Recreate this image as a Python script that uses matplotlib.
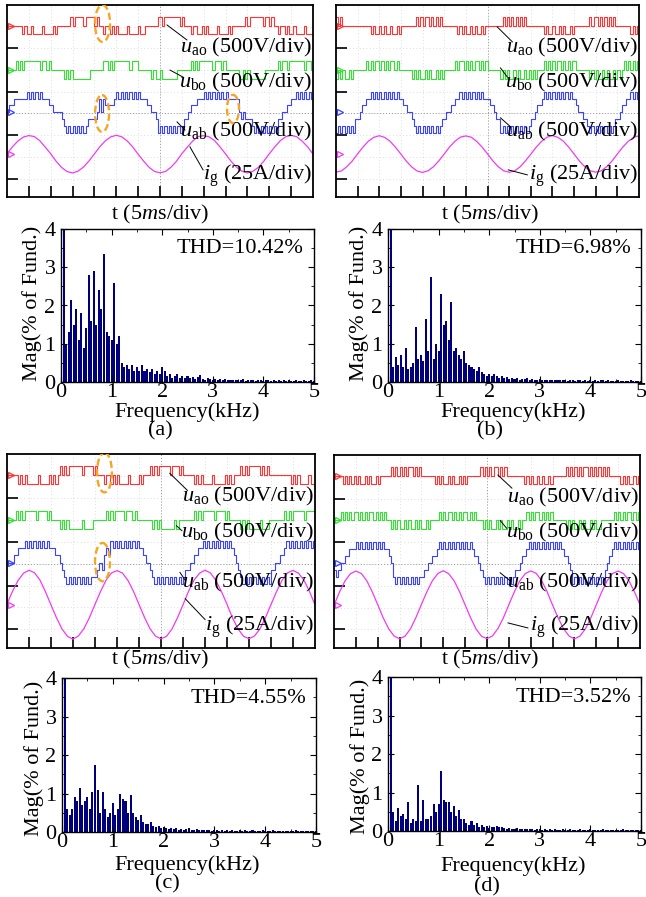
import matplotlib.pyplot as plt
import numpy as np
from matplotlib.patches import Ellipse
from matplotlib.ticker import MultipleLocator

plt.rcParams['font.family'] = ['Liberation Serif', 'DejaVu Serif']
plt.rcParams['mathtext.fontset'] = 'custom'
plt.rcParams['mathtext.rm'] = 'Liberation Serif'
plt.rcParams['mathtext.it'] = 'Liberation Serif:italic'
plt.rcParams['mathtext.bf'] = 'Liberation Serif:bold'

# ---------------- measured data ----------------
# switching states read every 0.5 ms (0-70 ms)
# phase legs: 0 = -1 level, 1 = zero, 2 = +1 level
# line voltage: 0..6, 3 = zero
SAMPLE_MS = 0.5
PHASE_STEP_V = 200.0
LINE_STEP_V = 160.0

u_ao_a = ("1111111" "01001000010000101" "11111" "2122221222212" "11011"
          "01010000100001001" "11111" "2212222222121" "11011"
          "00101000010000101" "11111" "2122222212212" "11011"
          "01001000010000101")
u_bo_a = ("1111" "2121222222212212" "111111" "010100000000" "111111"
          "2212122222221222" "111111" "010010000000" "111111"
          "2121222222122212" "111111" "001010000000" "111111"
          "2122122222221221")
u_ab_a = ("3" "44" "55555" "565656565" "55" "44" "3333" "2" "101010101012" "222"
          "35354" "444" "5656565656565" "55" "44" "33" "2" "010101010101" "22" "3"
          "444" "555" "656565656565" "555" "53232" "22" "101010101010" "223"
          "3445" "565656565656")

u_ao_b = ("2121" "111111111111" "01001010010010" "1111111" "212122121212" "1111111"
          "01010010100101" "1111111" "212121212121" "1111111" "01001001010010"
          "1111111" "212212121212" "1111111" "01010010100101")
u_bo_b = ("01010010" "111111" "2121221212122121" "11111" "0101001010010101" "1111"
          "2122121212212121" "11111" "01010010100101010" "111" "2121212212121221"
          "11111" "010100101001010" "1" "21212121212")
u_ab_b = ("010101010" "2234455" "6565656565656" "5544332" "1010101010101" "2233445"
          "5656565656565" "5544322" "0101010101010" "1223445" "6565656565656"
          "5543322" "1010101010101" "2234455" "6565656565")

u_ao_c = ("11111" "010100000100001010" "1" "212122222212222121" "11011"
          "0101000010000101" "11" "212122222122212" "11111"
          "0101000010000010101" "11" "2121222221212" "1111111111"
          "010100001000010")
u_bo_c = ("1111" "2121222221222212" "1111" "010100000010000" "111111"
          "21212222122212" "1111111" "010100000010" "1111111"
          "21212222212222121" "1111" "0101000001000" "1111111"
          "212122222122221212")
u_ab_c = ("333" "44" "55" "5656565656565" "55" "44" "3" "2" "1010101010101" "11"
          "232454" "6565656565656" "554332" "10101010101010" "12233445"
          "56565656565656" "5432" "10101010101010" "223344" "565656565656565656")

u_ao_d = ("11110101" "01010010100101" "1111" "21212121221212" "111111"
          "0101001010010101" "11111" "2121212212121" "1111111"
          "01010010100101" "11111" "21212121221212121212" "11111"
          "0101001010010")
u_bo_d = ("111" "212121221212122121212" "11" "0101001010010100101" "111"
          "212122121212212121" "11" "010100101001010010" "11"
          "2121221212121" "11111" "01010010100101001" "11111"
          "2121212212121212")
u_ab_d = ("21" "2334455" "565656565656565" "543" "1010101010101" "12233445"
          "656565656565656" "54432" "101010101010101" "22344"
          "5656565656565656" "54432" "010101010101010" "2345" "6565656565656565")

# grid current (A), read every 1.25 ms
I_STEP_MS = 1.25
i_g_a = [0.5, 8.4, 15.0, 19.6, 21.3, 20.1, 15.4, 8.0, 0.3, -8.4, -15.5, -20.2, -21.8, -19.7, -15.0, -8.0,
         0.2, 8.5, 15.3, 19.8, 21.6, 19.9, 15.1, 8.3, -0.2, -8.1, -15.3, -20.0, -21.6, -20.1, -15.2, -8.4,
         0.4, 8.0, 15.1, 20.2, 21.2, 19.8, 15.4, 8.1, 0.1, -8.3, -15.1, -19.8, -21.7, -19.9, -15.3, -8.2,
         0.3, 8.2, 15.3, 19.9, 21.5, 20.0, 15.0, 8.4, 0.0]
i_g_b = [-20.8, -19.5, -14.6, -8.1, 0.2, 8.1, 14.9, 19.3, 21.1, 19.2, 14.7, 7.8, -0.1, -8.2, -14.9, -19.6,
         -21.2, -19.3, -14.7, -7.9, 0.1, 8.2, 14.8, 19.5, 20.9, 19.4, 14.6, 8.0, 0.2, -7.9, -14.7, -19.3,
         -21.0, -19.5, -14.9, -8.0, -0.2, 7.9, 14.7, 19.4, 21.2, 19.3, 14.9, 8.1, 0.0, -8.1, -14.8, -19.4,
         -20.9, -19.4, -14.8, -8.2, 0.1, 8.0, 14.6, 19.3, 21.0]
i_g_c = [0.6, 15.2, 27.4, 35.8, 39.2, 36.3, 27.9, 14.6, -0.4, -15.1, -27.8, -36.2, -39.4, -35.7, -27.3, -14.7,
         0.3, 14.8, 27.7, 36.1, 38.8, 35.9, 27.5, 15.1, 0.2, -14.6, -27.5, -35.9, -39.1, -36.2, -27.8, -15.0,
         -0.2, 15.0, 27.9, 35.7, 39.3, 36.0, 27.4, 14.8, 0.4, -15.2, -27.6, -36.1, -38.9, -35.8, -27.6, -14.8,
         0.1, 14.7, 27.6, 36.2, 39.0, 35.8, 27.7, 15.0, -0.3]
i_g_d = [-0.5, 14.6, 27.2, 35.6, 38.7, 35.9, 27.6, 14.9, 0.2, -14.8, -27.4, -35.8, -39.0, -36.0, -27.5, -14.5,
         0.4, 15.0, 27.5, 35.9, 39.1, 35.6, 27.3, 14.7, -0.1, -14.9, -27.7, -36.1, -38.8, -35.7, -27.2, -14.9,
         0.2, 14.8, 27.4, 35.8, 38.9, 36.1, 27.7, 15.1, -0.3, -14.7, -27.3, -35.7, -39.2, -35.9, -27.6, -15.0,
         0.0, 14.9, 27.8, 35.9, 38.8, 35.7, 27.4, 14.6, 0.2]

# harmonic spectrum, % of fundamental, h = 0..100 (50 Hz steps)
HARM_KHZ = 0.05
mag_a = [0.6, 100, 1.0, 1.3, 2.15, 1.5, 1.9, 1.1, 1.8, 0.9,
         1.4, 2.8, 1.6, 2.9, 1.5, 2.4, 1.9, 3.35, 1.3, 1.2,
         1.1, 2.6, 1.0, 1.2, 0.5, 0.4, 0.45, 0.35, 0.45, 0.3,
         0.4, 0.3, 0.45, 0.3, 0.35, 0.25, 0.35, 0.2, 0.3, 0.2,
         0.4, 0.3, 0.15, 0.2, 0.1, 0.15, 0.2, 0.1, 0.15, 0.1,
         0.15, 0.1, 0.12, 0.08, 0.12, 0.18, 0.08, 0.06, 0.1, 0.08,
         0.06, 0.08, 0.05, 0.07, 0.05, 0.09, 0.04, 0.06, 0.05, 0.04,
         0.06, 0.04, 0.07, 0.03, 0.05, 0.04, 0.06, 0.03, 0.04, 0.05,
         0.03, 0.06, 0.04, 0.03, 0.05, 0.03, 0.04, 0.03, 0.05, 0.02,
         0.04, 0.03, 0.03, 0.05, 0.02, 0.03, 0.04, 0.02, 0.03, 0.05, 0.02]
mag_b = [0.6, 100, 0.4, 0.65, 0.45, 0.7, 0.4, 0.9, 0.35, 0.4,
         0.5, 1.45, 0.6, 0.7, 0.55, 1.65, 0.8, 2.75, 0.6, 1.0,
         0.8, 2.3, 1.5, 1.6, 1.1, 2.1, 0.8, 0.9, 0.7, 0.6,
         0.8, 0.5, 0.45, 0.4, 0.35, 0.3, 0.4, 0.25, 0.2, 0.15,
         0.2, 0.15, 0.2, 0.15, 0.1, 0.15, 0.1, 0.12, 0.08, 0.1,
         0.08, 0.1, 0.06, 0.08, 0.07, 0.1, 0.05, 0.08, 0.06, 0.05,
         0.07, 0.05, 0.06, 0.04, 0.06, 0.05, 0.04, 0.06, 0.04, 0.05,
         0.04, 0.03, 0.05, 0.04, 0.03, 0.05, 0.04, 0.03, 0.04, 0.03,
         0.05, 0.03, 0.04, 0.03, 0.05, 0.04, 0.03, 0.04, 0.03, 0.02,
         0.03, 0.04, 0.02, 0.03, 0.03, 0.02, 0.04, 0.03, 0.02, 0.03, 0.02]
mag_c = [0.5, 100, 0.6, 0.45, 0.6, 0.9, 0.8, 1.15, 0.7, 0.8,
         0.9, 0.6, 1.05, 1.75, 1.1, 0.5, 1.05, 0.6, 0.4, 0.5,
         0.75, 0.45, 0.6, 1.0, 0.85, 0.8, 0.5, 0.95, 0.5, 0.4,
         0.3, 0.45, 0.25, 0.2, 0.2, 0.25, 0.15, 0.12, 0.15, 0.1,
         0.12, 0.1, 0.08, 0.1, 0.08, 0.1, 0.06, 0.08, 0.05, 0.07,
         0.1, 0.05, 0.06, 0.08, 0.04, 0.06, 0.05, 0.04, 0.05, 0.03,
         0.04, 0.05, 0.03, 0.04, 0.03, 0.05, 0.03, 0.04, 0.02, 0.03,
         0.04, 0.03, 0.05, 0.02, 0.03, 0.04, 0.02, 0.03, 0.02, 0.04,
         0.02, 0.03, 0.02, 0.04, 0.02, 0.03, 0.02, 0.02, 0.03, 0.02,
         0.03, 0.02, 0.04, 0.02, 0.02, 0.03, 0.02, 0.02, 0.03, 0.02, 0.02]
mag_d = [0.65, 100, 0.5, 0.25, 0.6, 0.4, 0.45, 0.3, 0.75, 0.2,
         0.3, 0.25, 1.2, 0.25, 0.8, 0.3, 0.3, 0.4, 0.7, 0.5,
         0.7, 1.55, 0.8, 0.75, 0.75, 0.5, 0.65, 0.4, 0.55, 0.3,
         0.3, 0.2, 0.15, 0.25, 0.15, 0.2, 0.1, 0.15, 0.1, 0.12,
         0.08, 0.1, 0.1, 0.12, 0.1, 0.1, 0.08, 0.06, 0.08, 0.05,
         0.06, 0.07, 0.05, 0.04, 0.06, 0.05, 0.04, 0.05, 0.03, 0.04,
         0.05, 0.03, 0.04, 0.03, 0.05, 0.03, 0.04, 0.02, 0.03, 0.04,
         0.03, 0.02, 0.04, 0.03, 0.02, 0.03, 0.04, 0.02, 0.03, 0.02,
         0.04, 0.02, 0.03, 0.02, 0.03, 0.04, 0.02, 0.03, 0.02, 0.03,
         0.02, 0.03, 0.02, 0.04, 0.02, 0.03, 0.02, 0.02, 0.03, 0.02, 0.02]

thd_text = ['THD=10.42%', 'THD=6.98%', 'THD=4.55%', 'THD=3.52%']
case_labels = ['(a)', '(b)', '(c)', '(d)']

panels = [
    dict(u_ao=u_ao_a, u_bo=u_bo_a, u_ab=u_ab_a, i_g=i_g_a, mag=mag_a),
    dict(u_ao=u_ao_b, u_bo=u_bo_b, u_ab=u_ab_b, i_g=i_g_b, mag=mag_b),
    dict(u_ao=u_ao_c, u_bo=u_bo_c, u_ab=u_ab_c, i_g=i_g_c, mag=mag_c),
    dict(u_ao=u_ao_d, u_bo=u_bo_d, u_ab=u_ab_d, i_g=i_g_d, mag=mag_d),
]

# ---------------- layout (pixels, top-left origin) ----------------
W, H = 646, 897
scope_box = [(7, 5, 313, 197), (336, 5, 639, 197), (7, 454, 315, 648), (334, 455, 640, 648)]
spec_box = [(61, 229, 314, 382), (388, 229, 641, 382), (62, 678, 316, 832), (388, 677, 641, 831)]
time_lbl_xy = [(160, 214), (490, 214), (160, 659), (490, 659)]
freq_lbl_xy = [(187, 412), (513, 412), (187, 865), (513, 866)]
case_lbl_xy = [(160, 431), (490, 431), (167, 884), (487, 887)]
mag_lbl_xy = [(32, 303), (359, 303), (34, 758), (360, 756)]

SCOPE_DIVS_Y = 8.85
BASE = [0.95, 3.0, 4.95, 6.87]          # channel zero lines, div from top
LABEL_Y = [1.95, 3.57, 5.85, 7.87]
leaders = [
    [(7.32, 0.92, 8.23, 1.61), (7.46, 3.0, 8.05, 3.32), (7.78, 5.39, 8.14, 5.76), (8.37, 6.54, 8.97, 7.6)],
    [(7.45, 1.01, 8.15, 1.7), (7.6, 2.9, 7.9, 3.3), (7.6, 5.2, 8.05, 5.6), (7.96, 7.6, 8.84, 7.83)],
    [(7.4, 0.88, 8.2, 1.66), (7.7, 3.27, 7.95, 3.5), (7.86, 5.4, 8.1, 5.76), (8.1, 6.6, 9.0, 7.55)],
    [(7.5, 0.92, 8.14, 1.52), (7.6, 3.0, 7.9, 3.36), (7.6, 5.4, 8.05, 5.76), (7.96, 7.7, 8.87, 7.93)],
]
# dashed highlight rings (centre x div, centre y div, width div, height div)
rings = [
    [(4.37, 0.85, 0.69, 1.7), (4.35, 5.0, 0.64, 1.7), (10.34, 4.79, 0.55, 1.3)],
    [],
    [(4.43, 0.85, 0.68, 1.8), (4.34, 4.93, 0.68, 1.75)],
    [],
]

RED, GREEN, BLUE, MAGENTA = '#ff3434', '#35e035', '#3a44ff', '#f23af2'
BAR_COLOR = '#00007c'
FS = 16


def px_axes(fig, box):
    x0, y0, x1, y1 = box
    return fig.add_axes([x0 / W, 1 - y1 / H, (x1 - x0) / W, (y1 - y0) / H])


def step_trace(ax, states, zero, base, step_v, color):
    lv = (np.array([int(c) for c in states]) - zero) * step_v
    lv = np.append(lv, lv[-1])
    t = np.arange(len(lv)) * SAMPLE_MS
    ax.plot(t, base - lv / 500.0, drawstyle='steps-post', color=color, lw=0.8)


fig = plt.figure(figsize=(W / 100, H / 100), dpi=100)

for k, p in enumerate(panels):
    # ---- oscilloscope screen ----
    ax = px_axes(fig, scope_box[k])
    ax.set_xlim(0, 70)
    ax.set_ylim(SCOPE_DIVS_Y, 0)
    for gx in range(5, 70, 5):
        ax.axvline(gx, color='#d4d4d4', lw=0.6, ls=(0, (1, 3)), zorder=0)
    for gy in range(1, 9):
        ax.axhline(gy, color='#d4d4d4', lw=0.6, ls=(0, (1, 3)), zorder=0)
    ax.axvline(35, color='#9a9a9a', lw=0.7, ls=(0, (1, 2)), zorder=0)
    ax.axhline(5, color='#9a9a9a', lw=0.7, ls=(0, (1, 2)), zorder=0)

    step_trace(ax, p['u_ao'], 1, BASE[0], PHASE_STEP_V, RED)
    step_trace(ax, p['u_bo'], 1, BASE[1], PHASE_STEP_V, GREEN)
    step_trace(ax, p['u_ab'], 3, BASE[2], LINE_STEP_V, BLUE)
    t_i = np.arange(len(p['i_g'])) * I_STEP_MS
    ax.plot(t_i, BASE[3] - np.array(p['i_g']) / 25.0, color=MAGENTA, lw=0.9)

    # channel reference markers on the left edge
    for b, c in zip(BASE, [RED, GREEN, BLUE, MAGENTA]):
        ax.plot(0.9, b, marker='>', ms=5, mfc='none', mec=c, mew=0.9, clip_on=False)

    names = [r'$u_{\rm ao}$ (500V/div)', r'$u_{\rm bo}$ (500V/div)',
             r'$u_{\rm ab}$ (500V/div)', r'$i_{\rm g}$ (25A/div)']
    for name, ly, (x1, y1, x2, y2) in zip(names, LABEL_Y, leaders[k]):
        ax.plot([x1 * 5, x2 * 5], [y1, y2], color='k', lw=0.7)
        ax.text(69.7, ly, name, ha='right', va='center', fontsize=FS)

    for cx, cy, w, h in rings[k]:
        ax.add_patch(Ellipse((cx * 5, cy), w * 5, h, fill=False, ec='#f5a623',
                             lw=1.7, ls=(0, (3, 1.5)), zorder=5))

    ax.set_xticks(np.arange(5, 70, 5))
    ax.set_yticks([2, 4, 6, 8])
    ax.tick_params(direction='in', length=8, width=1.2, labelbottom=False, labelleft=False)
    for s in ax.spines.values():
        s.set_linewidth(1.3)

    fig.text(time_lbl_xy[k][0] / W, 1 - time_lbl_xy[k][1] / H, r't ($\mathit{5m}$s/div)',
             ha='center', va='center', fontsize=FS)

    # ---- harmonic spectrum ----
    sx = px_axes(fig, spec_box[k])
    freq = np.arange(len(p['mag'])) * HARM_KHZ
    sx.bar(freq, p['mag'], width=0.04, color=BAR_COLOR, linewidth=0)
    sx.set_xlim(0, 5)
    sx.set_ylim(0, 4)
    sx.xaxis.set_major_locator(MultipleLocator(1))
    sx.xaxis.set_minor_locator(MultipleLocator(0.5))
    sx.yaxis.set_major_locator(MultipleLocator(1))
    sx.yaxis.set_minor_locator(MultipleLocator(0.5))
    sx.tick_params(which='both', direction='in', top=True, right=True, labelsize=FS)
    sx.tick_params(axis='x', which='both', pad=1)
    sx.tick_params(axis='y', which='both', pad=4)
    sx.tick_params(which='major', length=4)
    sx.tick_params(which='minor', length=2.5)
    for s in sx.spines.values():
        s.set_linewidth(1.0)
    sx.text(0.96, 0.87, thd_text[k], transform=sx.transAxes, ha='right', va='center', fontsize=FS)

    fig.text(freq_lbl_xy[k][0] / W, 1 - freq_lbl_xy[k][1] / H, 'Frequency(kHz)',
             ha='center', va='center', fontsize=FS)
    fig.text(case_lbl_xy[k][0] / W, 1 - case_lbl_xy[k][1] / H, case_labels[k],
             ha='center', va='center', fontsize=FS)
    fig.text(mag_lbl_xy[k][0] / W, 1 - mag_lbl_xy[k][1] / H, 'Mag(% of Fund.)',
             ha='center', va='center', rotation=90, fontsize=FS)

fig.savefig('out.png', dpi=100)
